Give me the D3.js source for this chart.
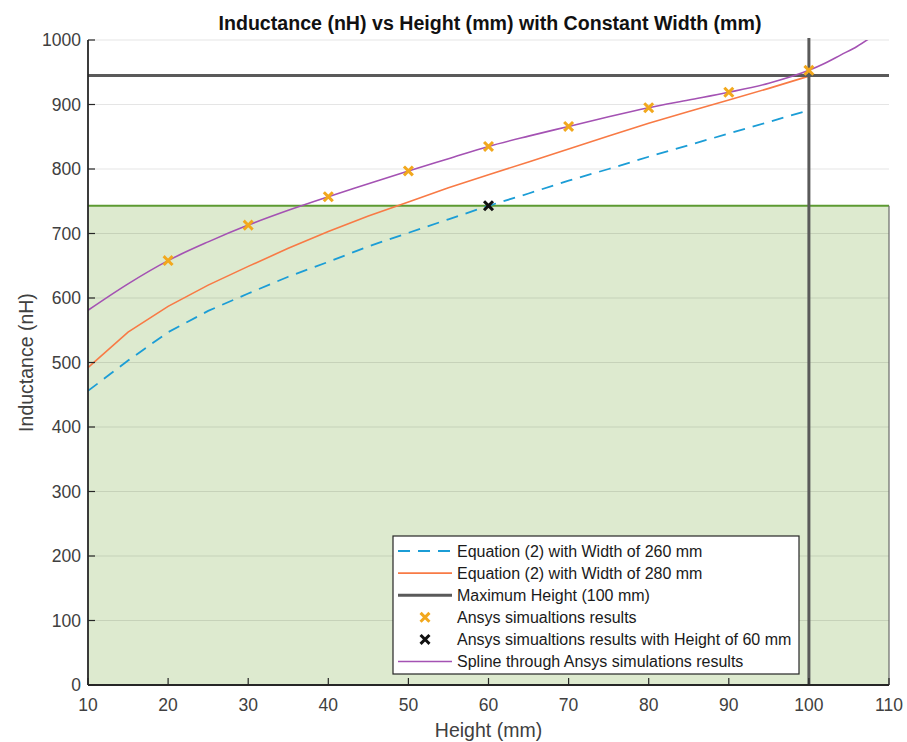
<!DOCTYPE html>
<html>
<head>
<meta charset="utf-8">
<script src="https://cdn.jsdelivr.net/npm/d3@7"></script>
<style>
  html, body { margin: 0; padding: 0; background: #fff; }
  svg { display: block; font-family: "Liberation Sans", Arial, Helvetica, sans-serif; }
</style>
</head>
<body>
<svg id="chart" width="907" height="742"></svg>
<script>
// Height samples (mm) for the Equation (2) curves
const heights = [10, 15, 20, 25, 30, 35, 40, 45, 50, 55, 60, 65, 70, 75, 80, 85, 90, 95, 100];
// Equation (2), width 260 mm (nH)
const eqWidth260 = [456, 503, 547, 580, 607, 633, 656, 680, 701, 722, 743, 762, 782, 800, 819, 837, 855, 873, 891];
// Equation (2), width 280 mm (nH)
const eqWidth280 = [492, 547, 587, 620, 649, 677, 703, 727, 749, 771, 791, 811, 831, 851, 871, 889, 907, 925, 944];

// Ansys simulation results
const ansysHeights = [20, 30, 40, 50, 60, 70, 80, 90, 100];
const ansysValues = [658, 713, 757, 797, 835, 866, 895, 919, 953];

// Ansys result at 60 mm height
const highlightHeight = [60];
const highlightValue = [743];

// Spline through the Ansys results (sampled), extending past 100 mm
const splineHeights = [10, 15, 20, 25, 30, 35, 40, 45, 50, 55, 60, 65, 70, 75, 80, 85, 90, 95, 100, 102, 104, 106, 107.5];
const splineValues = [581, 622, 658, 687, 713, 736, 757, 777, 797, 816, 835, 851, 866, 881, 895, 907, 919, 933, 953, 964, 977, 990, 1002];

// Reference limits
const maxHeight = 100;          // vertical line (mm)
const maxInductance = 945;     // horizontal line (nH)
const regionTop = 743;         // shaded region upper bound (nH)

const xTicks = [10, 20, 30, 40, 50, 60, 70, 80, 90, 100, 110];
const yTicks = [0, 100, 200, 300, 400, 500, 600, 700, 800, 900, 1000];

const legendLabels = [
  "Equation (2) with Width of 260 mm",
  "Equation (2) with Width of 280 mm",
  "Maximum Height (100 mm)",
  "Ansys simualtions results",
  "Ansys simualtions results with Height of 60 mm",
  "Spline through Ansys simulations results"
];

const colors = {
  blue: "#1b9dd6",
  orange: "#f87a45",
  gray: "#5a5a5a",
  marker: "#f2a81d",
  black: "#111111",
  purple: "#a452b3",
  regionFill: "#ddeacf",
  regionEdge: "#5c9a32",
  axis: "#262626",
  text: "#404040"
};

const svg = d3.select("#chart");
const plot = { left: 88, right: 889, top: 40, bottom: 685 };

const x = d3.scaleLinear().domain([10, 110]).range([plot.left, plot.right]);
const y = d3.scaleLinear().domain([0, 1000]).range([plot.bottom, plot.top]);

svg.append("defs").append("clipPath").attr("id", "plot-clip")
  .append("rect")
  .attr("x", plot.left).attr("y", plot.top)
  .attr("width", plot.right - plot.left).attr("height", plot.bottom - plot.top);

// Shaded region below the 60 mm result
svg.append("rect")
  .attr("x", x(10)).attr("y", y(regionTop))
  .attr("width", x(110) - x(10)).attr("height", y(0) - y(regionTop))
  .attr("fill", colors.regionFill);

// Horizontal grid
svg.append("g")
  .selectAll("line")
  .data(yTicks.filter(d => d > 0))
  .join("line")
  .attr("x1", plot.left).attr("x2", plot.right)
  .attr("y1", d => y(d)).attr("y2", d => y(d))
  .attr("stroke", "rgba(0,0,0,0.1)")
  .attr("stroke-width", 1.2);

// Region edges
svg.append("line")
  .attr("x1", x(10)).attr("x2", x(110))
  .attr("y1", y(regionTop)).attr("y2", y(regionTop))
  .attr("stroke", colors.regionEdge).attr("stroke-width", 2);
svg.append("line")
  .attr("x1", x(110)).attr("x2", x(110))
  .attr("y1", y(regionTop)).attr("y2", y(0))
  .attr("stroke", "#6a6a6a").attr("stroke-width", 1.2);

const g = svg.append("g").attr("clip-path", "url(#plot-clip)");

const line = d3.line().x(d => x(d[0])).y(d => y(d[1]));
const smooth = d3.line().x(d => x(d[0])).y(d => y(d[1])).curve(d3.curveMonotoneX);

g.append("path")
  .datum(heights.map((h, i) => [h, eqWidth260[i]]))
  .attr("d", line)
  .attr("fill", "none").attr("stroke", colors.blue)
  .attr("stroke-width", 1.8).attr("stroke-dasharray", "12,8");

g.append("path")
  .datum(heights.map((h, i) => [h, eqWidth280[i]]))
  .attr("d", line)
  .attr("fill", "none").attr("stroke", colors.orange)
  .attr("stroke-width", 1.6);

// Maximum height limit lines
g.append("line")
  .attr("x1", x(10)).attr("x2", x(110))
  .attr("y1", y(maxInductance)).attr("y2", y(maxInductance))
  .attr("stroke", colors.gray).attr("stroke-width", 3);
svg.append("line")
  .attr("x1", x(maxHeight)).attr("x2", x(maxHeight))
  .attr("y1", plot.top - 2).attr("y2", plot.bottom)
  .attr("stroke", colors.gray).attr("stroke-width", 3);

g.append("path")
  .datum(splineHeights.map((h, i) => [h, splineValues[i]]))
  .attr("d", smooth)
  .attr("fill", "none").attr("stroke", colors.purple)
  .attr("stroke-width", 1.6);

function cross(sel, cx, cy, color, r) {
  sel.append("path")
    .attr("d", `M${cx - r},${cy - r}L${cx + r},${cy + r}M${cx - r},${cy + r}L${cx + r},${cy - r}`)
    .attr("stroke", color).attr("stroke-width", 3).attr("stroke-linecap", "square")
    .attr("fill", "none");
}

ansysHeights.forEach((h, i) => cross(svg, x(h), y(ansysValues[i]), colors.marker, 3.4));
highlightHeight.forEach((h, i) => cross(svg, x(h), y(highlightValue[i]), colors.black, 3.4));

// Axes
const axisG = svg.append("g");
axisG.append("line")
  .attr("x1", plot.left).attr("x2", plot.left)
  .attr("y1", plot.top).attr("y2", plot.bottom)
  .attr("stroke", colors.axis).attr("stroke-width", 1.8);
axisG.append("line")
  .attr("x1", plot.left).attr("x2", plot.right)
  .attr("y1", plot.bottom).attr("y2", plot.bottom)
  .attr("stroke", colors.axis).attr("stroke-width", 1.8);

axisG.selectAll(".yt").data(yTicks).join("line")
  .attr("x1", plot.left).attr("x2", plot.left + 7)
  .attr("y1", d => y(d)).attr("y2", d => y(d))
  .attr("stroke", colors.axis).attr("stroke-width", 1.2);
axisG.selectAll(".xt").data(xTicks).join("line")
  .attr("x1", d => x(d)).attr("x2", d => x(d))
  .attr("y1", plot.bottom).attr("y2", plot.bottom - 7)
  .attr("stroke", colors.axis).attr("stroke-width", 1.2);

axisG.selectAll(".yl").data(yTicks).join("text")
  .attr("x", plot.left - 7).attr("y", d => y(d))
  .attr("dy", "0.36em")
  .attr("text-anchor", "end")
  .attr("font-size", 17.5).attr("fill", colors.text)
  .text(d => d);
axisG.selectAll(".xl").data(xTicks).join("text")
  .attr("x", d => x(d)).attr("y", plot.bottom + 26)
  .attr("text-anchor", "middle")
  .attr("font-size", 17.5).attr("fill", colors.text)
  .text(d => d);

svg.append("text")
  .attr("x", (plot.left + plot.right) / 2).attr("y", 737)
  .attr("text-anchor", "middle").attr("font-size", 19.5).attr("fill", colors.text)
  .text("Height (mm)");
svg.append("text")
  .attr("transform", `translate(33,${(plot.top + plot.bottom) / 2}) rotate(-90)`)
  .attr("text-anchor", "middle").attr("font-size", 19.5).attr("fill", colors.text)
  .text("Inductance (nH)");
svg.append("text")
  .attr("x", 490).attr("y", 30)
  .attr("text-anchor", "middle").attr("font-size", 19.6).attr("font-weight", "bold")
  .attr("fill", "#111")
  .text("Inductance (nH) vs Height (mm) with Constant Width (mm)");

// Legend
const lg = svg.append("g");
lg.append("rect")
  .attr("x", 393).attr("y", 536).attr("width", 406).attr("height", 138)
  .attr("fill", "#fff").attr("stroke", "#262626").attr("stroke-width", 1.2);

const rowY = i => 551 + i * 22.1;
const sx0 = 398, sx1 = 452, mx = 425;

lg.append("line").attr("x1", sx0).attr("x2", sx1).attr("y1", rowY(0)).attr("y2", rowY(0))
  .attr("stroke", colors.blue).attr("stroke-width", 1.8).attr("stroke-dasharray", "12,8");
lg.append("line").attr("x1", sx0).attr("x2", sx1).attr("y1", rowY(1)).attr("y2", rowY(1))
  .attr("stroke", colors.orange).attr("stroke-width", 1.6);
lg.append("line").attr("x1", sx0).attr("x2", sx1).attr("y1", rowY(2)).attr("y2", rowY(2))
  .attr("stroke", colors.gray).attr("stroke-width", 3);
cross(lg, mx, rowY(3), colors.marker, 3.4);
cross(lg, mx, rowY(4), colors.black, 3.4);
lg.append("line").attr("x1", sx0).attr("x2", sx1).attr("y1", rowY(5)).attr("y2", rowY(5))
  .attr("stroke", colors.purple).attr("stroke-width", 1.6);

lg.selectAll(".lt").data(legendLabels).join("text")
  .attr("x", 457).attr("y", (d, i) => rowY(i))
  .attr("dy", "0.36em")
  .attr("font-size", 16).attr("fill", "#1a1a1a")
  .text(d => d);
</script>
</body>
</html>
